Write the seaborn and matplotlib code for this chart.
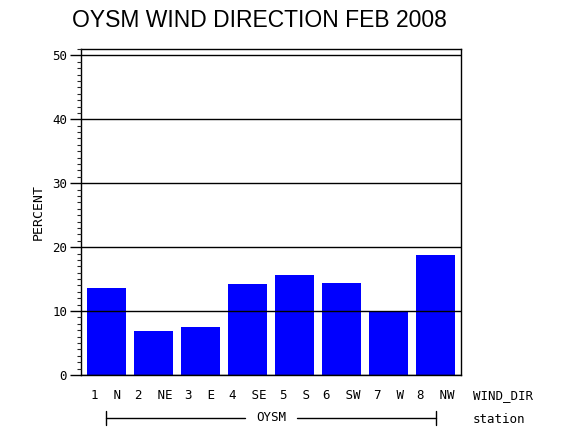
import matplotlib
matplotlib.use("Agg")
import matplotlib.pyplot as plt
import seaborn as sns
import pandas as pd
from matplotlib.ticker import MultipleLocator

# wind direction share for OYSM, Feb 2008
directions = ["1  N", "2  NE", "3  E", "4  SE", "5  S", "6  SW", "7  W", "8  NW"]
percent = [13.6, 6.9, 7.5, 14.2, 15.6, 14.4, 9.9, 18.7]
station = "OYSM"
yticks = [0, 10, 20, 30, 40, 50]

df = pd.DataFrame({"dir": directions, "pct": percent})

sns.set_style("white")
plt.rcParams["font.family"] = ["DejaVu Sans Mono", "DejaVu Sans"]
plt.rcParams["text.color"] = "black"

fig = plt.figure(figsize=(5.7, 4.3), dpi=100)
ax = fig.add_axes([0.142, 0.128, 0.667, 0.758])

sns.barplot(data=df, x="dir", y="pct", color="#0000ff", saturation=1,
            width=0.83, edgecolor="none", ax=ax)

ax.set_xlim(-0.54, 7.54)
ax.set_ylim(0, 51)
ax.set_yticks(yticks)
ax.yaxis.set_minor_locator(MultipleLocator(1))
ax.set_axisbelow(False)
ax.yaxis.grid(True, color="black", linewidth=1)
ax.xaxis.grid(False)

for s in ax.spines.values():
    s.set_color("black")
    s.set_linewidth(1)

ax.tick_params(axis="y", which="major", direction="out", length=8, width=1,
               labelsize=9, left=True, colors="black", pad=2)
ax.tick_params(axis="y", which="minor", direction="out", length=3, width=0.8, left=True)
ax.tick_params(axis="x", length=0, labelsize=9, pad=10, colors="black")

ax.set_xlabel("")
ax.set_ylabel("PERCENT", fontsize=9.5, labelpad=5, color="black")

ax.set_title("OYSM WIND DIRECTION FEB 2008", fontsize=16.5, color="black",
             family="Liberation Sans", pad=16, x=0.47)

# WIND_DIR label right of the tick labels
ax.text(1.03, -0.062, "WIND_DIR", transform=ax.transAxes, fontsize=9,
        va="center", ha="left")
ax.text(1.03, -0.138, "station", transform=ax.transAxes, fontsize=9,
        va="center", ha="left")

# group bracket under the categories
trans = ax.get_xaxis_transform()
yb = -0.132
ax.plot([0, 2.95], [yb, yb], color="black", lw=1, transform=trans, clip_on=False)
ax.plot([4.05, 7], [yb, yb], color="black", lw=1, transform=trans, clip_on=False)
for xe in (0, 7):
    ax.plot([xe, xe], [yb - 0.022, yb + 0.022], color="black", lw=1,
            transform=trans, clip_on=False)
ax.text(3.5, yb, station, transform=trans, fontsize=9, ha="center", va="center")

fig.savefig("out.png", dpi=100)
